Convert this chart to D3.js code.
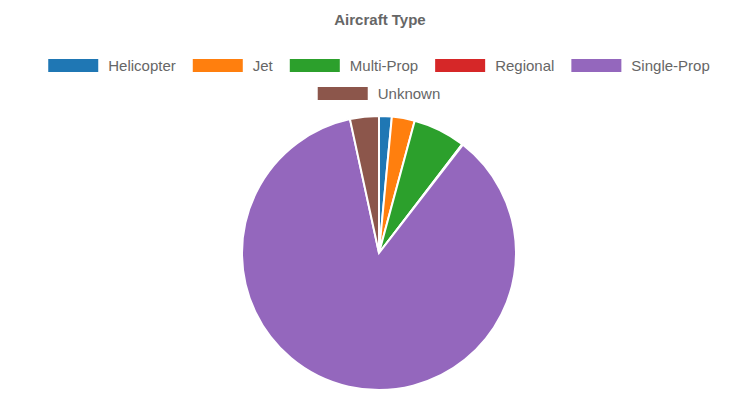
<!doctype html>
<html lang="en">
<head>
  <style>
    body { margin: 0; background: #fff; }
    .title { font: bold 15px "Liberation Sans", Arial, sans-serif; fill: #666; }
    .legend-label { font: 15px "Liberation Sans", Arial, sans-serif; fill: #666; }
  </style>
  <script src="https://d3js.org/d3.v7.min.js"></script>
</head>
<body>
  <script>
    const categories = ["Helicopter", "Jet", "Multi-Prop", "Regional", "Single-Prop", "Unknown"];
    const counts = [15, 27, 62, 1, 861, 34];
    const colors = ["#1f77b4", "#ff7f0e", "#2ca02c", "#d62728", "#9467bd", "#8c564b"];

    const width = 730, height = 394;
    const svg = d3.select("body").append("svg")
      .attr("width", width)
      .attr("height", height);

    svg.append("text")
      .attr("class", "title")
      .attr("x", 380)
      .attr("y", 25)
      .attr("text-anchor", "middle")
      .text("Aircraft Type");

    const color = d3.scaleOrdinal().domain(categories).range(colors);

    // legend, wrapped into centred rows
    const boxW = 50, boxH = 13, textGap = 10, itemGap = 17, maxRow = 690;
    const legend = svg.append("g");
    const items = categories.map(name => {
      const g = legend.append("g");
      g.append("rect").attr("width", boxW).attr("height", boxH).attr("fill", color(name));
      const t = g.append("text").attr("class", "legend-label")
        .attr("x", boxW + textGap).attr("y", boxH / 2).attr("dy", "0.35em").text(name);
      return { g, w: boxW + textGap + t.node().getComputedTextLength() };
    });
    const rows = [[]];
    let rowW = 0;
    items.forEach(it => {
      const add = (rows[rows.length - 1].length ? itemGap : 0) + it.w;
      if (rowW + add > maxRow && rows[rows.length - 1].length) { rows.push([it]); rowW = it.w; }
      else { rows[rows.length - 1].push(it); rowW += add; }
    });
    rows.forEach((row, r) => {
      const total = d3.sum(row, d => d.w) + itemGap * (row.length - 1);
      let x = 379 - total / 2;
      row.forEach(it => {
        it.g.attr("transform", `translate(${x},${59 + r * 28})`);
        x += it.w + itemGap;
      });
    });

    // pie
    const radius = 137;
    const pie = d3.pie().sort(null).value(d => d.value);
    const arc = d3.arc().innerRadius(0).outerRadius(radius);
    const data = categories.map((c, i) => ({ name: c, value: counts[i] }));

    svg.append("g")
      .attr("transform", "translate(379,253)")
      .selectAll("path")
      .data(pie(data))
      .join("path")
      .attr("d", arc)
      .attr("fill", d => color(d.data.name))
      .attr("stroke", "#fff")
      .attr("stroke-width", 2);
  </script>
</body>
</html>
